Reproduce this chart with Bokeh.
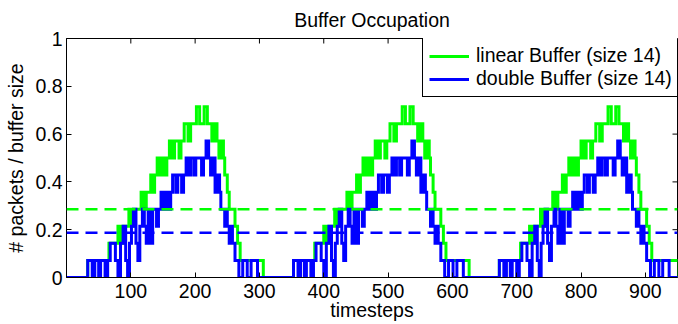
import math
from bokeh.plotting import figure
from bokeh.models import (Range1d, Span, Legend, LegendItem,
                          FixedTicker, NumeralTickFormatter)
from bokeh.embed import file_html
from bokeh.resources import INLINE

BUFFER_SIZE = 14
FONT = "Liberation Sans"
FS = "19.5px"

# ---- data: step change points (timestep, packets) ----
linear_t = [0, 33, 66, 80, 84, 88, 97, 101, 104, 116, 120, 124, 131, 134, 137, 141, 145, 149, 153, 156,
            160, 164, 168, 175, 178, 183, 189, 193, 202, 207, 214, 219, 226, 230, 234, 237, 240, 244, 246, 250,
            253, 262, 266, 270, 306,
            320, 353, 386, 400, 404, 408, 417, 421, 424, 436, 440, 444, 451, 454, 457, 461, 465, 469, 473, 476,
            480, 484, 488, 495, 498, 503, 509, 513, 522, 527, 534, 539, 546, 550, 554, 557, 560, 564, 566, 570,
            573, 582, 586, 590, 626,
            640, 673, 706, 720, 724, 728, 737, 741, 744, 756, 760, 764, 771, 774, 777, 781, 785, 789, 793, 796,
            800, 804, 808, 815, 818, 823, 829, 833, 842, 847, 854, 859, 866, 870, 874, 877, 880, 884, 886, 890,
            893, 902, 906, 910, 952, 960]
linear_n = [0, 1, 2, 3, 2, 3, 4, 3, 4, 5, 4, 5, 6, 5, 6, 7, 6, 7, 6, 7,
            8, 7, 8, 7, 8, 9, 8, 9, 10, 9, 10, 9, 8, 9, 8, 7, 8, 7, 6, 5,
            4, 3, 2, 1, 0,
            0, 1, 2, 3, 2, 3, 4, 3, 4, 5, 4, 5, 6, 5, 6, 7, 6, 7, 6, 7,
            8, 7, 8, 7, 8, 9, 8, 9, 10, 9, 10, 9, 8, 9, 8, 7, 8, 7, 6, 5,
            4, 3, 2, 1, 0,
            0, 1, 2, 3, 2, 3, 4, 3, 4, 5, 4, 5, 6, 5, 6, 7, 6, 7, 6, 7,
            8, 7, 8, 7, 8, 9, 8, 9, 10, 9, 10, 9, 8, 9, 8, 7, 8, 7, 6, 5,
            4, 3, 2, 1, 0, 0]

double_t = [0, 33, 40, 44, 50, 53, 60, 64, 68, 76, 80, 84, 88, 92, 95, 98, 101, 104, 108, 111,
            114, 118, 121, 124, 127, 131, 134, 140, 143, 147, 151, 154, 158, 162, 165, 170, 173, 179, 182, 186,
            190, 193, 198, 201, 210, 213, 217, 221, 224, 227, 231, 234, 238, 240, 246, 248, 250, 253, 256, 258,
            262, 268, 274, 281, 287, 297,
            320, 353, 360, 364, 370, 373, 380, 384, 388, 396, 400, 404, 408, 412, 415, 418, 421, 424, 428, 431,
            434, 438, 441, 444, 447, 451, 454, 460, 463, 467, 471, 474, 478, 482, 485, 490, 493, 499, 502, 506,
            510, 513, 518, 521, 530, 533, 537, 541, 544, 547, 551, 554, 558, 560, 566, 568, 570, 573, 576, 578,
            582, 588, 594, 601, 607, 617,
            640, 673, 680, 684, 690, 693, 700, 704, 708, 716, 720, 724, 728, 732, 735, 738, 741, 744, 748, 751,
            754, 758, 761, 764, 767, 771, 774, 780, 783, 787, 791, 794, 798, 802, 805, 810, 813, 819, 822, 826,
            830, 833, 838, 841, 850, 853, 857, 861, 864, 867, 871, 874, 878, 880, 886, 888, 890, 893, 896, 898,
            902, 908, 914, 921, 927, 937, 960]
double_n = [0, 1, 0, 1, 0, 1, 0, 1, 2, 1, 0, 2, 3, 1, 0, 2, 3, 4, 2, 1,
            3, 4, 3, 2, 4, 2, 4, 3, 4, 5, 4, 5, 4, 5, 6, 5, 6, 5, 6, 7,
            6, 7, 6, 7, 6, 7, 8, 7, 6, 7, 5, 6, 5, 4, 3, 4, 3, 2, 3, 2,
            1, 0, 1, 0, 1, 0,
            0, 1, 0, 1, 0, 1, 0, 1, 2, 1, 0, 2, 3, 1, 0, 2, 3, 4, 2, 1,
            3, 4, 3, 2, 4, 2, 4, 3, 4, 5, 4, 5, 4, 5, 6, 5, 6, 5, 6, 7,
            6, 7, 6, 7, 6, 7, 8, 7, 6, 7, 5, 6, 5, 4, 3, 4, 3, 2, 3, 2,
            1, 0, 1, 0, 1, 0,
            0, 1, 0, 1, 0, 1, 0, 1, 2, 1, 0, 2, 3, 1, 0, 2, 3, 4, 2, 1,
            3, 4, 3, 2, 4, 2, 4, 3, 4, 5, 4, 5, 4, 5, 6, 5, 6, 5, 6, 7,
            6, 7, 6, 7, 6, 7, 8, 7, 6, 7, 5, 6, 5, 4, 3, 4, 3, 2, 3, 2,
            1, 0, 1, 0, 1, 0, 0]

linear_mean = 0.286
double_mean = 0.1875

x_ticks = [100, 200, 300, 400, 500, 600, 700, 800, 900]
y_ticks = [0, 0.2, 0.4, 0.6, 0.8, 1]
x_max = 950
y_max = 1

series_labels = ["linear Buffer (size 14)", "double Buffer (size 14)"]
GREEN = "#00ff00"
BLUE = "#0000ff"

linear_y = [n / BUFFER_SIZE for n in linear_n]
double_y = [n / BUFFER_SIZE for n in double_n]

p = figure(frame_width=611, frame_height=239, output_backend="svg", toolbar_location=None,
           x_range=Range1d(0, x_max), y_range=Range1d(0, y_max),
           min_border_left=66, min_border_right=1, min_border_top=38, min_border_bottom=47,
           background_fill_color="white", border_fill_color="white")

p.xgrid.visible = False
p.ygrid.visible = False
p.outline_line_color = "black"
p.outline_line_width = 1
p.outline_line_alpha = 1

p.title.text = "Buffer Occupation"
p.title.align = "center"
p.title.vertical_align = "top"
p.title.text_font = FONT
p.title.text_font_size = FS
p.title.text_font_style = "normal"
p.title.text_color = "black"
p.title.text_line_height = 0.7
p.title.standoff = 12

xa = p.xaxis[0]
xa.ticker = FixedTicker(ticks=x_ticks)
xa.major_tick_in = 5
xa.major_tick_out = 0
xa.minor_tick_line_color = None
xa.axis_line_color = "black"
xa.major_tick_line_color = "black"
xa.major_label_text_font = FONT
xa.major_label_text_font_size = FS
xa.major_label_text_color = "black"
xa.major_label_standoff = 6
xa.axis_label = "timesteps"
xa.axis_label_text_font = FONT
xa.axis_label_text_font_size = FS
xa.axis_label_text_font_style = "normal"
xa.axis_label_text_color = "black"
xa.axis_label_standoff = -2

ya = p.yaxis[0]
ya.ticker = FixedTicker(ticks=y_ticks)
ya.formatter = NumeralTickFormatter(format="0.[0]")
ya.major_tick_in = 5
ya.major_tick_out = 0
ya.minor_tick_line_color = None
ya.axis_line_color = "black"
ya.major_tick_line_color = "black"
ya.major_label_text_font = FONT
ya.major_label_text_font_size = FS
ya.major_label_text_color = "black"
ya.major_label_standoff = 4
ya.axis_label = "# packets / buffer size"
ya.axis_label_text_font = FONT
ya.axis_label_text_font_size = FS
ya.axis_label_text_font_style = "normal"
ya.axis_label_text_color = "black"
ya.axis_label_standoff = 5

# inward tick marks on the top and right edges of the box (clipped to the frame)
p.scatter(x=x_ticks, y=[y_max] * len(x_ticks), marker="dash", angle=math.pi / 2, size=10,
          line_color="black", line_width=1)
p.scatter(x=[x_max] * len(y_ticks), y=y_ticks, marker="dash", size=10,
          line_color="black", line_width=1)

g = p.step(x=linear_t, y=linear_y, mode="after", line_color=GREEN, line_width=3, line_join="miter")
b = p.step(x=double_t, y=double_y, mode="after", line_color=BLUE, line_width=3, line_join="miter")

p.add_layout(Span(location=linear_mean, dimension="width", line_color=GREEN,
                  line_width=2.5, line_dash="12 7"))
p.add_layout(Span(location=double_mean, dimension="width", line_color=BLUE,
                  line_width=2.5, line_dash="12 7"))

legend = Legend(items=[LegendItem(label=series_labels[0], renderers=[g]),
                       LegendItem(label=series_labels[1], renderers=[b])],
                location=(356, 180), glyph_width=40, glyph_height=20,
                label_text_font=FONT, label_text_font_size=FS, label_text_color="black",
                label_standoff=7, padding=6, spacing=0, margin=0,
                border_line_color="black", border_line_width=1, border_line_alpha=1,
                background_fill_color="white", background_fill_alpha=1)
p.add_layout(legend)

open("out.html", "w").write(file_html(p, INLINE))
